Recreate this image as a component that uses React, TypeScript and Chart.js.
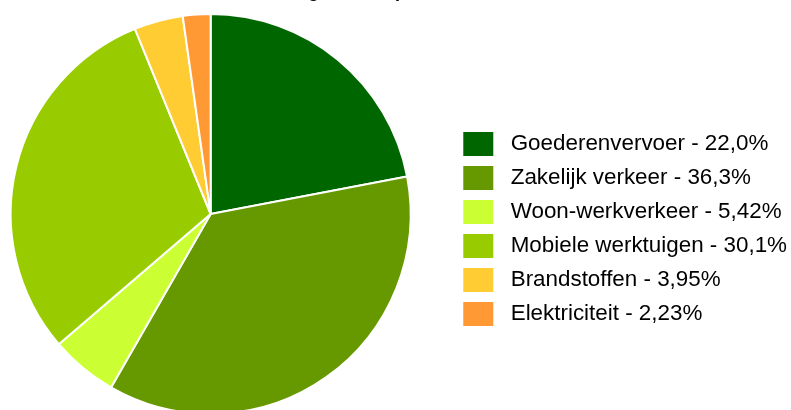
import React, { useEffect, useRef } from 'react';
import { Chart, registerables } from 'chart.js';

Chart.register(...registerables);

const chartTitle = 'Verdeling uitstoot per sector 2019';
const categories = [
  'Goederenvervoer',
  'Zakelijk verkeer',
  'Woon-werkverkeer',
  'Mobiele werktuigen',
  'Brandstoffen',
  'Elektriciteit',
];
const shares = [22.0, 36.3, 5.42, 30.1, 3.95, 2.23];
const sliceColors = ['#006600', '#669900', '#CCFF33', '#99CC00', '#FFCC33', '#FF9933'];

const FONT = "'Liberation Sans', Arial, Helvetica, sans-serif";

function formatShare(v: number): string {
  return v.toPrecision(3).replace('.', ',') + '%';
}

export default function App() {
  const canvasRef = useRef<HTMLCanvasElement | null>(null);

  useEffect(() => {
    const canvas = canvasRef.current;
    if (!canvas) return;
    const chart = new Chart(canvas, {
      type: 'pie',
      data: {
        labels: categories,
        datasets: [
          {
            data: shares,
            backgroundColor: sliceColors,
            borderColor: '#ffffff',
            borderWidth: 2,
            radius: 200,
            clip: false,
          } as any,
        ],
      },
      options: {
        responsive: true,
        maintainAspectRatio: false,
        animation: false,
        layout: { padding: { left: 0, right: 0, top: 0, bottom: 84 } },
        plugins: {
          title: {
            display: true,
            text: chartTitle,
            color: '#000000',
            font: { size: 18, weight: 'bold', family: FONT },
            padding: { top: 41.5, bottom: 88.9 },
          },
          legend: {
            position: 'right',
            align: 'end',
            labels: {
              boxWidth: 30,
              boxHeight: 24,
              padding: 10,
              color: '#333333',
              font: { size: 22.4, family: FONT },
              generateLabels: (c: any) =>
                categories.map((cat, i) => ({
                  text: ' ' + cat + ' - ' + formatShare(shares[i]),
                  fillStyle: sliceColors[i],
                  strokeStyle: sliceColors[i],
                  lineWidth: 0,
                  hidden: false,
                  index: i,
                  datasetIndex: 0,
                })),
            },
          },
          tooltip: { enabled: false },
        },
      } as any,
    });
    return () => chart.destroy();
  }, []);

  return (
    <div
      style={{
        position: 'fixed',
        left: -32,
        top: -60,
        width: 829,
        height: 480,
      }}
    >
      <canvas ref={canvasRef} />
    </div>
  );
}
